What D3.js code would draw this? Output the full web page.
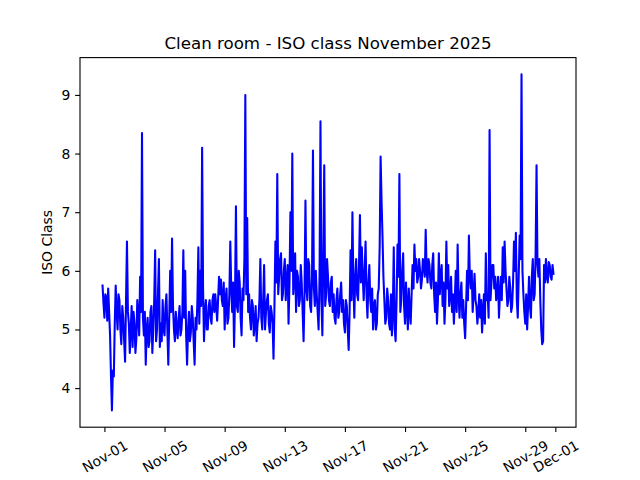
<!DOCTYPE html>
<html>
<head>
<meta charset="utf-8">
<script src="https://cdn.jsdelivr.net/npm/d3@7"></script>
<style>
  body { margin: 0; background: #fff; }
  svg text { font-family: "DejaVu Sans", sans-serif; fill: #000; }
</style>
</head>
<body>
<div id="chart"></div>
<script>
// Readings every 1.5 hours, starting Oct 31 21:00
var startTime = new Date(2025, 9, 31, 21, 0);
var stepHours = 1.5;
var isoValues = [
    5.75,5.45, 5.2,5.6, 5.55,5.15, 5.7,5.3, 4.9,4.2, 3.62,4.3, 4.2,5.1, 5.75,5.3, 5.0,5.6, 5.5,5.0, 4.75,5.4, 5.2,4.8, 4.45,5.5, 6.5,5.3, 5.1,4.6, 5.0,5.4,
    4.7,5.3, 5.1,4.6, 4.85,5.5, 5.2,4.9, 5.9,5.3, 8.35,5.2, 4.9,5.3, 4.4,5.0, 5.2,4.7, 4.8,5.3, 5.4,4.6, 5.0,5.5, 6.35,4.8, 5.0,5.6, 6.2,4.7, 5.1,4.8,
    5.5,5.0, 4.9,5.4, 5.6,5.0, 4.4,5.2, 6.0,5.3, 6.55,5.4, 5.0,4.8, 5.3,5.0, 4.85,5.2, 5.4,4.9, 5.0,5.3, 6.35,5.2, 6.0,4.9, 4.4,5.0, 5.3,4.8, 4.95,5.4,
    5.2,4.8, 4.4,5.2, 5.0,5.5, 6.4,5.1, 6.0,5.4, 8.1,5.7, 4.8,5.3, 5.5,5.0, 5.0,5.4, 5.5,5.2, 5.1,5.5, 5.6,5.3, 5.6,5.4, 5.15,5.5, 5.9,5.6, 5.85,5.5,
    5.4,5.8, 5.0,5.5, 5.7,5.1, 5.2,5.6, 6.5,5.7, 5.3,5.8, 4.7,5.5, 7.1,5.4, 5.3,6.0, 5.8,5.2, 4.9,5.7, 5.5,6.2, 9.0,5.6, 6.9,5.3, 5.6,5.2, 5.0,5.5,
    5.4,4.9, 5.1,5.4, 4.8,5.1, 5.2,5.5, 6.2,5.2, 5.0,5.5, 6.1,5.0, 5.3,5.5, 5.6,5.1, 4.95,5.4, 5.3,5.1, 4.5,5.4, 6.5,5.8, 7.65,5.6, 5.9,6.2, 6.3,5.5,
    5.6,6.0, 6.2,5.5, 5.8,6.1, 5.1,5.8, 7.0,6.0, 8.0,5.6, 5.9,6.3, 5.3,6.0, 5.9,5.4, 5.5,6.1, 5.8,5.3, 4.8,5.6, 7.2,5.7, 5.5,6.2, 6.1,5.4, 5.3,5.9,
    8.05,5.7, 5.4,6.0, 5.6,5.3, 5.0,5.9, 8.55,5.5, 4.9,6.3, 7.8,5.4, 5.6,6.2, 5.9,5.5, 5.4,5.8, 5.9,5.3, 5.6,5.2, 5.1,5.5, 5.7,5.2, 5.3,5.6, 5.8,5.3,
    5.5,5.1, 4.95,5.5, 5.4,5.0, 4.65,5.3, 6.35,5.5, 7.0,5.8, 5.2,5.9, 6.2,5.6, 5.5,6.1, 6.95,5.8, 6.4,5.9, 5.5,6.0, 6.5,5.6, 5.2,5.8, 6.1,5.5, 5.3,5.7,
    5.0,5.4, 5.5,5.0, 5.1,5.6, 5.7,6.4, 7.95,7.2, 6.6,5.9, 5.5,5.1, 5.2,5.7, 5.5,5.1, 5.0,5.6, 4.9,5.3, 6.4,5.0, 4.8,5.5, 6.45,5.9, 7.65,5.3, 5.5,6.0,
    6.3,5.4, 5.1,5.8, 5.4,5.0, 5.7,5.3, 5.1,5.6, 6.1,5.7, 6.45,6.0, 6.2,5.8, 5.9,6.2, 6.0,5.7, 5.85,6.2, 6.1,5.9, 6.7,6.0, 5.8,6.2, 6.1,5.8, 5.7,6.1,
    6.3,5.6, 5.3,5.8, 5.1,5.5, 6.3,5.6, 5.9,6.1, 5.4,5.8, 5.1,5.5, 6.5,5.7, 6.1,5.4, 5.6,5.9, 5.3,5.6, 5.1,5.5, 6.0,5.3, 6.45,5.6, 5.2,5.6, 5.8,5.2,
    5.5,5.1, 4.85,5.4, 6.0,5.5, 6.6,5.9, 5.7,6.0, 5.3,5.6, 5.95,5.5, 5.4,5.1, 5.3,5.6, 5.2,5.5, 4.95,5.3, 5.6,5.1, 6.3,5.5, 5.6,5.2, 8.4,5.5, 5.8,6.1,
    6.1,5.7, 5.9,5.5, 5.6,5.9, 5.2,5.6, 5.9,5.5, 6.4,5.8, 6.5,6.0, 5.7,5.4, 5.5,5.9, 5.7,5.3, 5.4,5.8, 6.5,6.0, 6.65,5.5, 5.2,5.9, 6.6,6.2, 9.35,6.0,
    5.6,5.3, 5.1,5.6, 5.0,5.4, 5.9,5.4, 5.2,5.9, 6.2,5.5, 5.6,6.3, 7.8,6.1, 5.9,6.2, 5.5,5.0, 4.75,4.8, 6.1,5.8, 6.2,5.9, 5.8,6.15, 6.1,5.9, 5.85,6.1,
    5.95
];
var yTickValues = [4, 5, 6, 7, 8, 9];
var xTickDates = ["2025-11-01", "2025-11-05", "2025-11-09", "2025-11-13", "2025-11-17",
    "2025-11-21", "2025-11-25", "2025-11-29", "2025-12-01"];
var titleText = "Clean room - ISO class November 2025";
var yLabelText = "ISO Class";

var width = 640, height = 480;
var margin = { left: 80, right: 64, top: 57.6, bottom: 52.8 };
var pt = 100 / 72; // matplotlib points -> px at 100 dpi

var data = isoValues.map(function(v, i) {
    return { t: new Date(startTime.getTime() + i * stepHours * 3600 * 1000), v: v };
});

// matplotlib style 5% padding
var tExt = d3.extent(data, function(d) { return d.t; });
var tPad = (tExt[1] - tExt[0]) * 0.05;
var vExt = d3.extent(data, function(d) { return d.v; });
var vPad = (vExt[1] - vExt[0]) * 0.05;

var x = d3.scaleTime()
    .domain([new Date(tExt[0].getTime() - tPad), new Date(tExt[1].getTime() + tPad)])
    .range([margin.left, width - margin.right]);
var y = d3.scaleLinear()
    .domain([vExt[0] - vPad, vExt[1] + vPad])
    .range([height - margin.bottom, margin.top]);

var svg = d3.select("#chart").append("svg")
    .attr("width", width)
    .attr("height", height);

svg.append("defs").append("clipPath").attr("id", "plotClip")
    .append("rect")
    .attr("x", margin.left).attr("y", margin.top)
    .attr("width", width - margin.left - margin.right)
    .attr("height", height - margin.top - margin.bottom);

var line = d3.line()
    .x(function(d) { return x(d.t); })
    .y(function(d) { return y(d.v); });

svg.append("path")
    .datum(data)
    .attr("clip-path", "url(#plotClip)")
    .attr("d", line)
    .attr("fill", "none")
    .attr("stroke", "#0000ff")
    .attr("stroke-width", 1.5 * pt)
    .attr("stroke-linejoin", "round")
    .attr("stroke-linecap", "square");

// Y axis
var yAxis = d3.axisLeft(y).tickValues(yTickValues).tickSize(3.5 * pt).tickPadding(3.5 * pt)
    .tickFormat(d3.format("d"));
var gy = svg.append("g")
    .attr("transform", "translate(" + margin.left + ",0)")
    .call(yAxis);
gy.select(".domain").remove();
gy.selectAll(".tick line").attr("stroke-width", 0.8 * pt);
gy.selectAll(".tick text").attr("font-size", "13.9px").attr("font-family", "DejaVu Sans");

// X axis
var parseDay = d3.timeParse("%Y-%m-%d");
var xTicks = xTickDates.map(parseDay);
var xAxis = d3.axisBottom(x).tickValues(xTicks).tickSize(3.5 * pt).tickFormat(d3.timeFormat("%b-%d"));
var gx = svg.append("g")
    .attr("transform", "translate(0," + (height - margin.bottom) + ")")
    .call(xAxis);
gx.select(".domain").remove();
gx.selectAll(".tick line").attr("stroke-width", 0.8 * pt);

// rotated labels, centred under the tick like matplotlib rotation=30
gx.selectAll(".tick text")
    .attr("font-size", "13.9px")
    .attr("font-family", "DejaVu Sans")
    .attr("dy", null)
    .attr("y", 0)
    .attr("dominant-baseline", "central")
    .each(function() {
        var w = this.getComputedTextLength();
        var h = 13.9 * 1.16;
        var a = Math.PI / 6;
        var bboxH = w * Math.sin(a) + h * Math.cos(a);
        var cy = 7 * pt + bboxH / 2;
        d3.select(this)
            .attr("y", cy)
            .attr("transform", "rotate(-30,0," + cy + ")");
    });

// frame
svg.append("rect")
    .attr("x", margin.left).attr("y", margin.top)
    .attr("width", width - margin.left - margin.right)
    .attr("height", height - margin.top - margin.bottom)
    .attr("fill", "none")
    .attr("stroke", "#000")
    .attr("stroke-width", 0.8 * pt);

svg.append("text")
    .attr("x", (margin.left + width - margin.right) / 2)
    .attr("y", margin.top - 8.3)
    .attr("text-anchor", "middle")
    .attr("font-size", "16.67px")
    .text(titleText);

svg.append("text")
    .attr("transform", "translate(52," + ((margin.top + height - margin.bottom) / 2) + ") rotate(-90)")
    .attr("text-anchor", "middle")
    .attr("font-size", "13.9px")
    .text(yLabelText);
</script>
</body>
</html>
